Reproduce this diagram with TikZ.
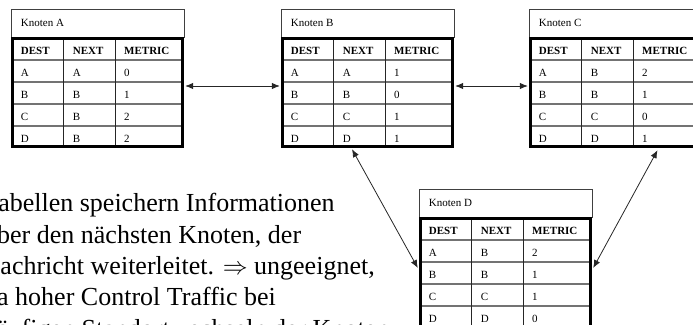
\documentclass[tikz,border=0pt]{standalone}
\usepackage{fontspec}
\setmainfont{Liberation Serif}
\usetikzlibrary{arrows.meta,calc}

% One routing table: #1 name, #2 left x, #3 top y, #4 title, #5 rows DEST/NEXT/METRIC
\newcommand{\routetab}[5]{%
  \draw[titlebox] (#2,#3) rectangle ++(173,28);
  \node[cell] (#1-title) at (#2+9.7,#3+17.5) {#4};
  \node[tabbody] (#1) at (#2+86.5,#3+83.5) {};
  \foreach \r in {51,73,95,117} \draw[rowline] (#2,#3+\r) -- ++(173,0);
  \foreach \c in {52,104} \draw[colline] (#2+\c,#3+28) -- ++(0,111);
  \node[head] (#1-h1) at (#2+9.7,#3+45) {DEST};
  \node[head] (#1-h2) at (#2+61.7,#3+45) {NEXT};
  \node[head] (#1-h3) at (#2+113,#3+45) {METRIC};
  \foreach \d/\n/\m [count=\i] in {#5} {
    \node[cell] (#1-d\i) at (#2+9.7,#3+45+22*\i) {\d};
    \node[cell] (#1-n\i) at (#2+61.7,#3+45+22*\i) {\n};
    \node[cell] (#1-m\i) at (#2+113,#3+45+22*\i) {\m};
  }
  \draw[frame] (#2+1.5,#3+29.5) rectangle (#2+171.5,#3+137.5);
}

\begin{document}
\begin{tikzpicture}[x=1pt,y=-1pt,
  cell/.style={anchor=base west, inner sep=0, font=\fontsize{11}{13}\selectfont},
  head/.style={cell, font=\fontsize{11}{13}\selectfont\bfseries},
  tabbody/.style={draw=none, inner sep=0, minimum width=173pt, minimum height=111pt},
  frame/.style={line width=3pt, draw=black},
  rowline/.style={line width=1.4pt, draw=black!55},
  colline/.style={line width=0.9pt, draw=black!85},
  titlebox/.style={line width=0.8pt, draw=black!75},
  link/.style={{Latex[length=8pt,width=6.5pt]}-{Latex[length=8pt,width=6.5pt]}, line width=0.8pt, draw=black!85},
  prose/.style={anchor=base west, inner sep=0, font=\fontsize{26}{31.5}\selectfont}
]
\useasboundingbox (0,0) rectangle (693,324);
\begin{scope}
\clip (0,0) rectangle (693,324);

% explanatory text
\node[prose] (l1) at (-16,211.7) {Tabellen speichern Informationen};
\node[prose] (l2) at (-16,243)   {über den nächsten Knoten, der};
\node[prose] (l3) at (-18.5,274.3) {Nachricht weiterleitet. $\Rightarrow$ ungeeignet,};
\node[prose] (l4) at (-16,305.5) {da hoher Control Traffic bei};
\node[prose] (l5) at (-16,337.5) {häufigen Standortwechseln der Knoten};

% routing tables
\routetab{A}{11}{9}{Knoten A}{A/A/0, B/B/1, C/B/2, D/B/2}
\routetab{B}{281}{9}{Knoten B}{A/A/1, B/B/0, C/C/1, D/D/1}
\routetab{C}{529}{9}{Knoten C}{A/B/2, B/B/1, C/C/0, D/D/1}
\routetab{D}{419}{189}{Knoten D}{A/B/2, B/B/1, C/C/1, D/D/0}

% links between neighbouring nodes
\draw[link] ($(A.east)+(1,-6.5)$) -- ($(B.west)+(-1,-6.5)$);
\draw[link] ($(B.east)+(1,-6.5)$) -- ($(C.west)+(-1,-6.5)$);
\draw[link] ($(B.south)+(-15.5,1)$) -- ($(D.west)+(-1,-4.5)$);
\draw[link] ($(C.south)+(42,2)$) -- ($(D.east)+(1,-4.5)$);
\end{scope}
\end{tikzpicture}
\end{document}
